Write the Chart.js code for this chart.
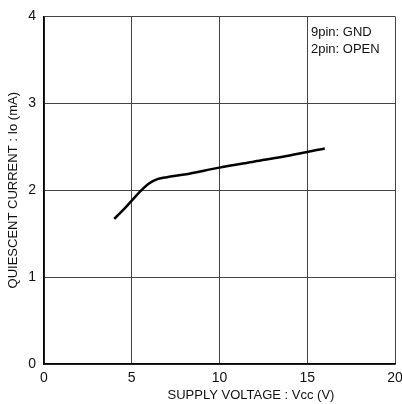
<!DOCTYPE html>
<html>
<head>
<meta charset="utf-8">
<script src="https://cdn.jsdelivr.net/npm/chart.js@4.4.0/dist/chart.umd.min.js"></script>
<style>
  html, body { margin: 0; padding: 0; background: #fff; }
  #wrap { width: 402px; height: 404px; }
</style>
</head>
<body>
<div id="wrap"><canvas id="qChart"></canvas></div>
<script>
// supply voltage Vcc (V)
const vcc = [4, 4.5, 5, 5.5, 6, 6.5, 7, 8, 10, 12, 14, 16];
// quiescent current Io (mA)
const iq = [1.67, 1.77, 1.88, 1.99, 2.08, 2.13, 2.15, 2.18, 2.26, 2.33, 2.40, 2.48];

const xTicks = [0, 5, 10, 15, 20];
const yTicks = [0, 1, 2, 3, 4];
const noteLines = ['9pin: GND', '2pin: OPEN'];
const xTitle = 'SUPPLY VOLTAGE : Vcc (V)';
const yTitle = 'QUIESCENT CURRENT : Io (mA)';

const font = "'Liberation Sans', Arial, sans-serif";

const points = vcc.map((v, i) => ({ x: v, y: iq[i] }));

// draws the pin note and the x axis title
const textPlugin = {
    id: 'textPlugin',
    afterDraw(chart) {
        const c = chart.ctx;
        const a = chart.chartArea;
        c.save();
        c.fillStyle = '#111';
        c.font = '13px ' + font;
        c.textBaseline = 'middle';
        c.textAlign = 'left';
        noteLines.forEach((t, i) => {
            c.fillText(t, a.right - 84, a.top + 16 + i * 17);
        });
        c.textAlign = 'center';
        c.fillText(xTitle, 251, 395);
        c.restore();
    }
};

const config = {
    type: 'scatter',
    data: {
        datasets: [{
            data: points,
            showLine: true,
            borderColor: '#000',
            borderWidth: 2.5,
            pointRadius: 0,
            tension: 0.4,
            cubicInterpolationMode: 'monotone'
        }]
    },
    options: {
        responsive: true,
        maintainAspectRatio: false,
        animation: false,
        layout: {
            padding: { top: 14, right: 0, left: 0, bottom: 0 }
        },
        scales: {
            x: {
                type: 'linear',
                min: 0,
                max: 20,
                afterBuildTicks: s => { s.ticks = xTicks.map(v => ({ value: v })); },
                afterFit: s => {
                    s.height = 40;
                    s.paddingLeft = 0;
                    s.paddingRight = 7;
                },
                grid: {
                    color: '#444',
                    lineWidth: 1,
                    drawTicks: false
                },
                border: { color: '#000', width: 1.5 },
                ticks: {
                    color: '#111',
                    padding: 6,
                    font: { family: font, size: 14 }
                }
            },
            y: {
                type: 'linear',
                min: 0,
                max: 4,
                afterBuildTicks: s => { s.ticks = yTicks.map(v => ({ value: v })); },
                afterFit: s => { s.width = 44; },
                grid: {
                    color: '#444',
                    lineWidth: 1,
                    drawTicks: false
                },
                border: { color: '#000', width: 1.5 },
                ticks: {
                    color: '#111',
                    padding: 8,
                    font: { family: font, size: 14 }
                },
                title: {
                    display: true,
                    text: yTitle,
                    color: '#111',
                    padding: { top: 6, bottom: 2 },
                    font: { family: font, size: 13 }
                }
            }
        },
        plugins: {
            legend: { display: false },
            tooltip: { enabled: false }
        }
    },
    plugins: [textPlugin]
};

const ctx = document.getElementById('qChart').getContext('2d');
new Chart(ctx, config);
</script>
</body>
</html>
